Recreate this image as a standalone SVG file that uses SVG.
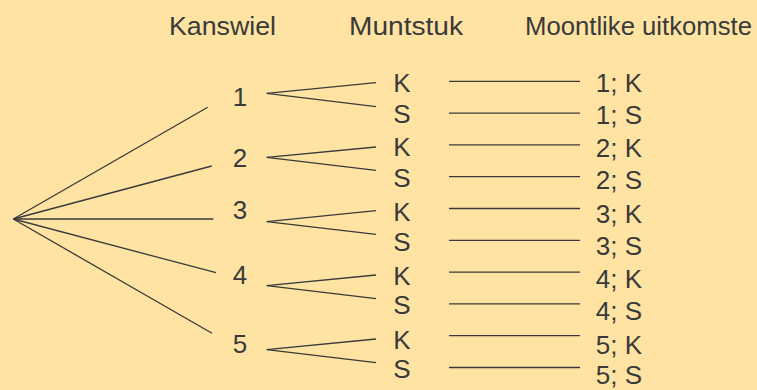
<svg xmlns="http://www.w3.org/2000/svg" width="757" height="390" viewBox="0 0 757 390">
<style>
text{font-family:"Liberation Sans",Arial,sans-serif;font-size:26px;fill:#3a3a3a}
.m{text-anchor:middle}
.e{text-anchor:end}
.c line{stroke:#3a3a3a;stroke-width:1.3;fill:none}
</style>
<rect width="757" height="390" fill="#FEE3A3"/>
<g id="headers">
<text x="169" y="34.5" textLength="107" lengthAdjust="spacingAndGlyphs">Kanswiel</text>
<text x="349" y="34.5" textLength="114" lengthAdjust="spacingAndGlyphs">Muntstuk</text>
<text x="525" y="34.5" textLength="227" lengthAdjust="spacingAndGlyphs">Moontlike uitkomste</text>
</g>
<g class="c" id="connectors">
<line x1="13.3" y1="219" x2="207.7" y2="107.3"/>
<line x1="13.3" y1="219" x2="211.7" y2="166"/>
<line x1="13.3" y1="219" x2="213.3" y2="219"/>
<line x1="13.3" y1="219" x2="216" y2="272.7"/>
<line x1="13.3" y1="219" x2="212" y2="333.3"/>
<line x1="266.7" y1="93.3" x2="376" y2="82.7"/>
<line x1="266.7" y1="93.3" x2="376" y2="106.7"/>
<line x1="266.7" y1="157.3" x2="376" y2="147"/>
<line x1="266.7" y1="157.3" x2="376" y2="170.3"/>
<line x1="266.7" y1="221.7" x2="376" y2="210.7"/>
<line x1="266.7" y1="221.7" x2="376" y2="234.3"/>
<line x1="266.7" y1="285.7" x2="376" y2="275"/>
<line x1="266.7" y1="285.7" x2="376" y2="298.7"/>
<line x1="266.7" y1="349.7" x2="376" y2="339"/>
<line x1="266.7" y1="349.7" x2="376" y2="362.7"/>
<line x1="449" y1="81.3" x2="580" y2="81.3"/>
<line x1="449" y1="113.1" x2="580" y2="113.1"/>
<line x1="449" y1="144.9" x2="580" y2="144.9"/>
<line x1="449" y1="176.7" x2="580" y2="176.7"/>
<line x1="449" y1="208.5" x2="580" y2="208.5"/>
<line x1="449" y1="240.3" x2="580" y2="240.3"/>
<line x1="449" y1="272.1" x2="580" y2="272.1"/>
<line x1="449" y1="303.9" x2="580" y2="303.9"/>
<line x1="449" y1="335.7" x2="580" y2="335.7"/>
<line x1="449" y1="367.5" x2="580" y2="367.5"/>
</g>
<g id="n1"><text class="m" x="240" y="105.7">1</text></g>
<g id="n2"><text class="m" x="240" y="167.3">2</text></g>
<g id="n3"><text class="m" x="240" y="218.5">3</text></g>
<g id="n4"><text class="m" x="240" y="283.7">4</text></g>
<g id="n5"><text class="m" x="240" y="353.3">5</text></g>
<g id="c1K"><text class="m" x="402" y="92.3">K</text></g>
<g id="c1S"><text class="m" x="402" y="122.7">S</text></g>
<g id="c2K"><text class="m" x="402" y="156">K</text></g>
<g id="c2S"><text class="m" x="402" y="186.7">S</text></g>
<g id="c3K"><text class="m" x="402" y="220.5">K</text></g>
<g id="c3S"><text class="m" x="402" y="250.7">S</text></g>
<g id="c4K"><text class="m" x="402" y="284.7">K</text></g>
<g id="c4S"><text class="m" x="402" y="314">S</text></g>
<g id="c5K"><text class="m" x="402" y="348.7">K</text></g>
<g id="c5S"><text class="m" x="402" y="377.7">S</text></g>
<g id="o1K"><text class="e" x="642" y="91.7">1; K</text></g>
<g id="o1S"><text class="e" x="642" y="124">1; S</text></g>
<g id="o2K"><text class="e" x="642" y="157.3">2; K</text></g>
<g id="o2S"><text class="e" x="642" y="189.3">2; S</text></g>
<g id="o3K"><text class="e" x="642" y="222.7">3; K</text></g>
<g id="o3S"><text class="e" x="642" y="255">3; S</text></g>
<g id="o4K"><text class="e" x="642" y="288.3">4; K</text></g>
<g id="o4S"><text class="e" x="642" y="320">4; S</text></g>
<g id="o5K"><text class="e" x="642" y="354">5; K</text></g>
<g id="o5S"><text class="e" x="642" y="384">5; S</text></g>
</svg>
